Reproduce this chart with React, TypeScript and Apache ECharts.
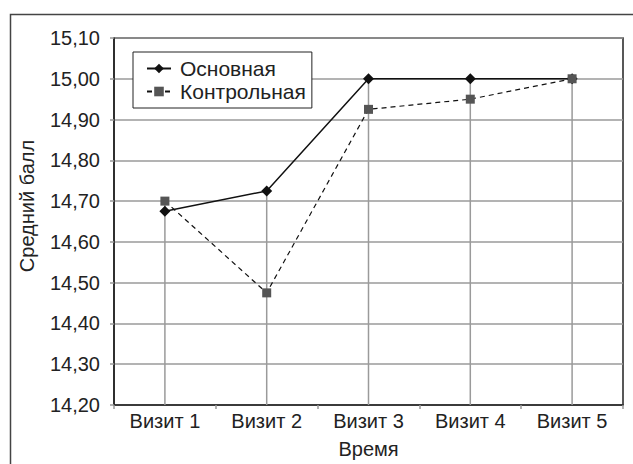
import React, { useEffect, useRef } from "react";
import * as echarts from "echarts";

const categories = ["Визит 1", "Визит 2", "Визит 3", "Визит 4", "Визит 5"];
const mainValues = [14.675, 14.725, 15.0, 15.0, 15.0];
const controlValues = [14.7, 14.475, 14.925, 14.95, 15.0];
const yMin = 14.2;
const yMax = 15.1;
const yInterval = 0.1;
const yTitle = "Средний балл";
const xTitle = "Время";

const FONT = "Liberation Sans, Arial, sans-serif";

export default function App() {
  const ref = useRef<HTMLDivElement>(null);
  useEffect(() => {
    if (!ref.current) return;
    const chart = echarts.init(ref.current, undefined, { renderer: "svg" });
    const dropData = categories.map((_, i) => [i, Math.max(mainValues[i], controlValues[i])]);
    chart.setOption({
      animation: false,
      backgroundColor: "#fff",
      textStyle: { fontFamily: FONT, color: "#222" },
      graphic: [
        {
          type: "rect",
          left: 8,
          top: 12,
          shape: { width: 660, height: 480 },
          style: { fill: "none", stroke: "#444", lineWidth: 1.5 },
          z: 0,
        },
        {
          type: "text",
          x: 27,
          y: 206,
          rotation: Math.PI / 2,
          style: {
            text: yTitle,
            fontFamily: FONT,
            fontSize: 20,
            fill: "#222",
            align: "center",
            verticalAlign: "middle",
          },
          z: 5,
        },
      ],
      grid: {
        left: 114,
        top: 38,
        right: 10,
        bottom: 58,
        show: true,
        borderColor: "#222",
        borderWidth: 1.5,
        backgroundColor: "transparent",
      },
      legend: {
        left: 133,
        top: 52,
        orient: "vertical",
        data: ["Основная", "Контрольная"],
        backgroundColor: "#fff",
        borderColor: "#222",
        borderWidth: 1,
        padding: [6, 6, 6, 13],
        itemGap: 2,
        itemWidth: 24,
        itemHeight: 12,
        textStyle: { fontFamily: FONT, fontSize: 21, color: "#222", lineHeight: 20, padding: [0, 0, 0, 4] },
        z: 10,
      },
      xAxis: {
        type: "category",
        data: categories,
        boundaryGap: true,
        name: xTitle,
        nameLocation: "middle",
        nameGap: 34,
        nameTextStyle: { fontFamily: FONT, fontSize: 20, color: "#222" },
        axisLine: { lineStyle: { color: "#222", width: 1.5 } },
        axisTick: { show: true, length: 4, lineStyle: { color: "#999", width: 1.5 } },
        axisLabel: { fontFamily: FONT, fontSize: 20, color: "#222", margin: 6 },
        splitLine: { show: false },
      },
      yAxis: {
        type: "value",
        min: yMin,
        max: yMax,
        interval: yInterval,
        axisLine: { show: true, lineStyle: { color: "#222", width: 1.5 } },
        axisTick: { show: true, length: 4, lineStyle: { color: "#999", width: 1.5 } },
        axisLabel: {
          fontFamily: FONT,
          fontSize: 20,
          color: "#222",
          margin: 14,
          formatter: (v: number) => v.toFixed(2).replace(".", ","),
        },
        splitLine: { show: true, lineStyle: { color: "#9a9a9a", width: 1.5 } },
      },
      series: [
        {
          type: "custom",
          name: "drop",
          data: dropData,
          z: 1,
          silent: true,
          renderItem: (params: any, api: any) => {
            const top = api.coord([api.value(0), api.value(1)]);
            const bottom = api.coord([api.value(0), yMin]);
            return {
              type: "line",
              shape: { x1: top[0], y1: top[1], x2: bottom[0], y2: bottom[1] },
              style: { stroke: "#9a9a9a", lineWidth: 1.5 },
            };
          },
        },
        {
          type: "line",
          name: "Основная",
          data: mainValues,
          symbol: "diamond",
          symbolSize: 11,
          itemStyle: { color: "#111" },
          lineStyle: { color: "#111", width: 1.5, type: "solid" },
          z: 3,
        },
        {
          type: "line",
          name: "Контрольная",
          data: controlValues,
          symbol: "rect",
          symbolSize: 9,
          itemStyle: { color: "#555" },
          lineStyle: { color: "#111", width: 1.2, type: [5, 4] },
          z: 4,
        },
      ],
    });
    return () => chart.dispose();
  }, []);
  return <div ref={ref} style={{ width: 633, height: 464, position: "absolute", left: 0, top: 0 }} />;
}
